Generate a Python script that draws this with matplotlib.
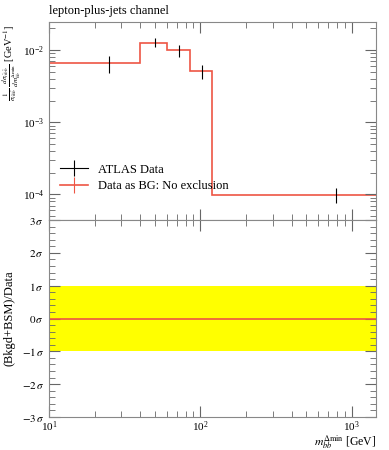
import numpy as np
import matplotlib
matplotlib.use("Agg")
import matplotlib.pyplot as plt
from matplotlib.ticker import AutoMinorLocator, LogLocator, NullFormatter
from matplotlib.lines import Line2D

plt.rcParams['font.family'] = ['Liberation Serif', 'DejaVu Serif']
plt.rcParams['mathtext.fontset'] = 'stix'

# bin edges and values
edges = [10, 40, 60, 85, 120, 1450]
data_x = [25, 50, 72.5, 102.5, 785]
data_y = [0.00668, 0.0127, 0.0099, 0.00513, 9.9e-5]
data_up = [0.00826, 0.0145, 0.0117, 0.00628, 1.22e-4]
data_dn = [0.00485, 0.0110, 0.0079, 0.00398, 7.5e-5]
bg_y = [0.00668, 0.0127, 0.0099, 0.00513, 9.9e-5]
sig_lo = -1
sig_hi = 1

red = '#ee5544'

fig = plt.figure(figsize=(3.89, 4.50), dpi=100)
ax = fig.add_axes([0.126, 0.511, 0.841, 0.44])
ax2 = fig.add_axes([0.126, 0.0733, 0.841, 0.4378], sharex=ax)

# top panel
yerr = [np.array(data_y) - np.array(data_dn), np.array(data_up) - np.array(data_y)]
ax.errorbar(data_x, data_y, yerr=yerr, fmt='none', ecolor='black', elinewidth=0.8, capsize=0)
ax.stairs(bg_y, edges, color=red, lw=1.2, baseline=None)
ax.set_xscale('log')
ax.set_yscale('log')
ax.set_xlim(10, 1450)
ax.set_ylim(4.4e-5, 0.0245)

h1 = Line2D([], [], color='black', lw=0.8, marker='|', markersize=12, markeredgewidth=0.8)
h2 = Line2D([], [], color=red, lw=1.2, marker='|', markersize=12, markeredgewidth=0.8)
ax.legend([h1, h2], ['ATLAS Data', 'Data as BG: No exclusion'], loc='lower left',
          bbox_to_anchor=(0.0, 0.085), frameon=False, fontsize=9, handlelength=2.2,
          labelspacing=0.35)

ax.set_ylabel(r'$\frac{1}{\sigma_{t\bar{t}b\bar{b}}}\,\frac{d\sigma_{t\bar{t}b\bar{b}}}{dm_{bb}^{\Delta\min}}$ [GeV$^{-1}$]',
              fontsize=7.5, loc='top')
ax.yaxis.set_label_coords(-0.078, 0.99)
ax.text(0.0, 1.025, 'lepton-plus-jets channel', transform=ax.transAxes, fontsize=9, ha='left', va='bottom')
ax.tick_params(labelbottom=False)

# bottom panel
ax2.fill_between([10, 1450], sig_lo, sig_hi, color='yellow', lw=0)
ax2.axhline(0, color=red, lw=1.2)
ax2.set_ylim(-3, 3)
ax2.set_yticks([-3, -2, -1, 0, 1, 2, 3])
ax2.set_yticklabels([r'$%d\,\sigma$' % v for v in [-3, -2, -1, 0, 1, 2, 3]])
ax2.yaxis.set_minor_locator(AutoMinorLocator(5))
ax2.set_ylabel('(Bkgd+BSM)/Data', fontsize=9)
ax2.yaxis.set_label_coords(-0.102, 0.5)
ax2.set_xlabel(r'$m_{bb}^{\Delta\min}$ [GeV]', fontsize=8.5, loc='right', labelpad=-0.5)

for a in (ax, ax2):
    a.tick_params(which='both', direction='in', top=True, right=True, labelsize=8, color='#666666')
    a.tick_params(which='major', length=8)
    a.tick_params(which='minor', length=4)
    a.tick_params(axis='x', pad=2)
    for s in a.spines.values():
        s.set_color('#888888')
    a.xaxis.set_major_locator(LogLocator(base=10))
    a.xaxis.set_minor_locator(LogLocator(base=10, subs=np.arange(2, 10)))
    a.xaxis.set_minor_formatter(NullFormatter())
ax.yaxis.set_minor_locator(LogLocator(base=10, subs=np.arange(2, 10)))
ax.yaxis.set_minor_formatter(NullFormatter())

fig.savefig('out.png', dpi=100)
